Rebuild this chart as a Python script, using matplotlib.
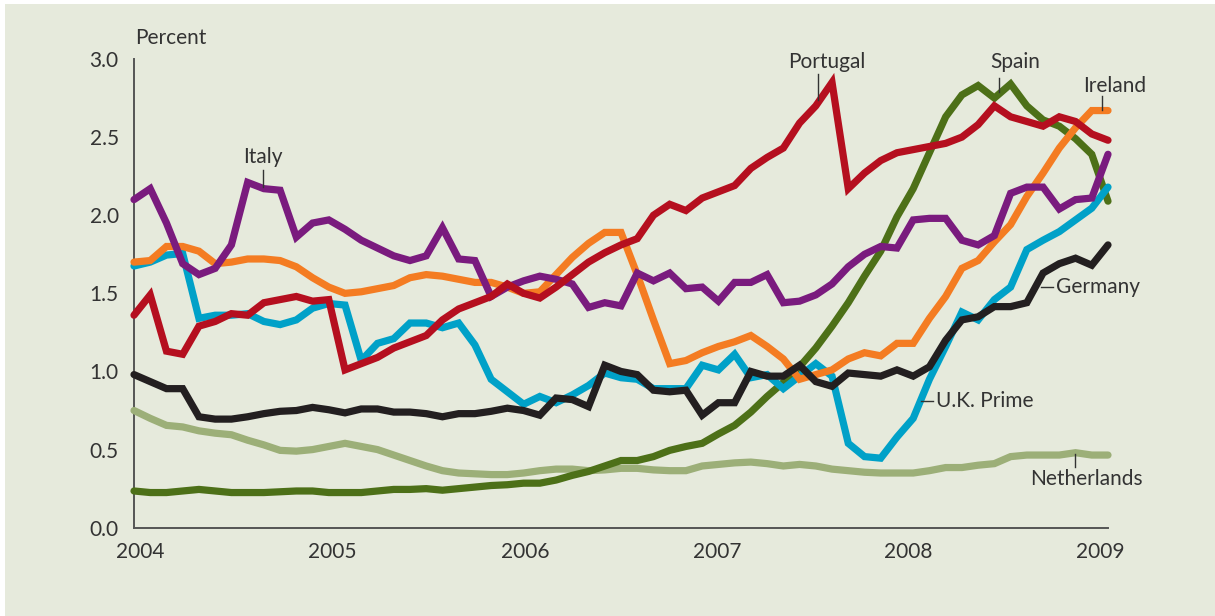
import numpy as np
import matplotlib
matplotlib.use("Agg")
import matplotlib.pyplot as plt
from matplotlib.patches import Rectangle

# Monthly values, Jan 2004 .. Jan 2009
months = np.arange(61)

italy = [2.10, 2.17, 1.95, 1.69, 1.62, 1.66, 1.81, 2.21, 2.17, 2.16,
         1.86, 1.95, 1.97, 1.91, 1.84, 1.79, 1.74, 1.71, 1.74, 1.92,
         1.72, 1.71, 1.48, 1.54, 1.58, 1.61, 1.59, 1.56, 1.41, 1.44,
         1.42, 1.63, 1.58, 1.63, 1.53, 1.54, 1.45, 1.57, 1.57, 1.62,
         1.44, 1.45, 1.49, 1.56, 1.67, 1.75, 1.80, 1.79, 1.97, 1.98,
         1.98, 1.84, 1.81, 1.87, 2.14, 2.18, 2.18, 2.04, 2.10, 2.11, 2.39]
ireland = [1.70, 1.71, 1.80, 1.80, 1.77, 1.69, 1.70, 1.72, 1.72, 1.71,
           1.67, 1.60, 1.54, 1.50, 1.51, 1.53, 1.55, 1.60, 1.62, 1.61,
           1.59, 1.57, 1.57, 1.54, 1.50, 1.51, 1.62, 1.73, 1.82, 1.89,
           1.89, 1.62, 1.33, 1.05, 1.07, 1.12, 1.16, 1.19, 1.23, 1.16,
           1.08, 0.95, 0.98, 1.01, 1.08, 1.12, 1.10, 1.18, 1.18, 1.34,
           1.48, 1.66, 1.71, 1.83, 1.94, 2.12, 2.27, 2.43, 2.56, 2.67, 2.67]
portugal = [1.36, 1.49, 1.13, 1.11, 1.29, 1.32, 1.37, 1.36, 1.44, 1.46,
            1.48, 1.45, 1.46, 1.01, 1.05, 1.09, 1.15, 1.19, 1.23, 1.33,
            1.40, 1.44, 1.48, 1.56, 1.50, 1.47, 1.54, 1.62, 1.70, 1.76,
            1.81, 1.85, 2.00, 2.07, 2.03, 2.11, 2.15, 2.19, 2.30, 2.37,
            2.43, 2.59, 2.70, 2.85, 2.17, 2.27, 2.35, 2.40, 2.42, 2.44,
            2.46, 2.50, 2.58, 2.70, 2.63, 2.60, 2.57, 2.63, 2.60, 2.52, 2.48]
spain = [0.235, 0.225, 0.225, 0.235, 0.245, 0.235, 0.225, 0.225, 0.225, 0.23,
         0.235, 0.235, 0.225, 0.225, 0.225, 0.235, 0.245, 0.245, 0.25, 0.24,
         0.25, 0.26, 0.27, 0.275, 0.285, 0.285, 0.305, 0.335, 0.36, 0.395,
         0.43, 0.43, 0.455, 0.495, 0.52, 0.54, 0.60, 0.655, 0.74, 0.84,
         0.93, 1.03, 1.15, 1.29, 1.44, 1.61, 1.77, 1.99, 2.17, 2.40,
         2.63, 2.77, 2.83, 2.75, 2.84, 2.70, 2.61, 2.57, 2.49, 2.39, 2.09]
uk_prime = [1.675, 1.70, 1.745, 1.755, 1.34, 1.36, 1.36, 1.37, 1.32, 1.30,
            1.33, 1.405, 1.435, 1.425, 1.07, 1.18, 1.21, 1.31, 1.31, 1.28,
            1.31, 1.17, 0.95, 0.87, 0.79, 0.84, 0.80, 0.85, 0.91, 0.99,
            0.96, 0.95, 0.89, 0.89, 0.89, 1.04, 1.01, 1.11, 0.96, 0.98,
            0.89, 0.97, 1.05, 0.97, 0.54, 0.455, 0.445, 0.58, 0.70, 0.95,
            1.16, 1.38, 1.33, 1.46, 1.54, 1.78, 1.84, 1.895, 1.97, 2.045, 2.18]
germany = [0.98, 0.935, 0.89, 0.89, 0.71, 0.695, 0.695, 0.71, 0.73, 0.745,
           0.75, 0.77, 0.755, 0.735, 0.76, 0.76, 0.74, 0.74, 0.73, 0.71,
           0.73, 0.73, 0.745, 0.765, 0.75, 0.72, 0.83, 0.82, 0.775, 1.04,
           1.00, 0.98, 0.88, 0.87, 0.88, 0.72, 0.80, 0.80, 1.00, 0.97,
           0.97, 1.04, 0.935, 0.905, 0.99, 0.98, 0.97, 1.01, 0.97, 1.03,
           1.20, 1.33, 1.35, 1.415, 1.415, 1.44, 1.63, 1.69, 1.725, 1.68, 1.81]
netherlands = [0.75, 0.70, 0.655, 0.645, 0.62, 0.605, 0.595, 0.56, 0.53, 0.495,
               0.49, 0.50, 0.52, 0.54, 0.52, 0.50, 0.465, 0.43, 0.395, 0.365,
               0.35, 0.345, 0.34, 0.34, 0.35, 0.365, 0.375, 0.375, 0.365, 0.37,
               0.38, 0.38, 0.37, 0.365, 0.365, 0.395, 0.405, 0.415, 0.42, 0.41,
               0.395, 0.405, 0.395, 0.375, 0.365, 0.355, 0.35, 0.35, 0.35, 0.365,
               0.385, 0.385, 0.40, 0.41, 0.455, 0.465, 0.465, 0.465, 0.48, 0.465, 0.465]

year_labels = ["2004", "2005", "2006", "2007", "2008", "2009"]
year_pos = [0.4, 12.2, 24.1, 35.9, 47.7, 59.5]
y_ticks = [0.0, 0.5, 1.0, 1.5, 2.0, 2.5, 3.0]

BG = "#e6eadc"
TXT = "#333333"
plt.rcParams['font.family'] = ['Lato', 'DejaVu Sans']

fig = plt.figure(figsize=(12.15, 6.16), dpi=100, facecolor="white")
fig.patches.append(Rectangle((5 / 1215, 0), 1, 1 - 4 / 616, transform=fig.transFigure,
                             facecolor=BG, edgecolor="none", zorder=-10))
ax = fig.add_axes([134 / 1215, 1 - 527.7 / 616, (1108 - 134) / 1215, (527.7 - 59) / 616])
ax.set_facecolor("none")

series = [
    (netherlands, "#9caf78"),
    (spain, "#4d7018"),
    (uk_prime, "#00a1c8"),
    (ireland, "#f47c22"),
    (italy, "#7a1b7e"),
    (portugal, "#b50f1f"),
    (germany, "#231f20"),
]
for vals, col in series:
    ax.plot(months, vals, color=col, lw=5.2, solid_joinstyle="miter",
            solid_capstyle="round", clip_on=False)

ax.set_xlim(0, 60)
ax.set_ylim(0, 3.0)
for s in ["top", "right"]:
    ax.spines[s].set_visible(False)
for s in ["left", "bottom"]:
    ax.spines[s].set_color("#555555")
    ax.spines[s].set_linewidth(1.4)
    ax.spines[s].set_zorder(0.5)

ax.set_yticks(y_ticks)
ax.set_yticklabels([f"{v:.1f}" for v in y_ticks])
ax.set_xticks(year_pos)
ax.set_xticklabels(year_labels)
ax.tick_params(axis="y", length=0, pad=11, labelsize=15, labelcolor=TXT)
ax.tick_params(axis="x", length=0, pad=10, labelsize=15, labelcolor=TXT)

fig.text(135 / 1215, 1 - 38 / 616, "Percent", fontsize=15, color=TXT, ha="left", va="center")

def label(x, y, text, ha="center"):
    ax.text(x, y, text, fontsize=15, color=TXT, ha=ha, va="center")

def vtick(x, y0, y1):
    ax.plot([x, x], [y0, y1], color=TXT, lw=1, clip_on=False)

label(7.95, 2.37, "Italy")
vtick(7.95, 2.18, 2.29)
label(42.7, 2.98, "Portugal")
vtick(42.14, 2.74, 2.905)
label(54.3, 2.98, "Spain")
vtick(53.3, 2.79, 2.88)
label(60.4, 2.83, "Ireland")
vtick(59.65, 2.675, 2.765)
label(56.8, 1.54, "Germany", ha="left")
ax.plot([55.9, 56.6], [1.54, 1.54], color=TXT, lw=1, clip_on=False)
label(49.4, 0.81, "U.K. Prime", ha="left")
ax.plot([48.5, 49.2], [0.81, 0.81], color=TXT, lw=1, clip_on=False)
label(58.7, 0.31, "Netherlands")
vtick(57.98, 0.39, 0.47)

fig.savefig("out.png", dpi=100, facecolor=fig.get_facecolor())
